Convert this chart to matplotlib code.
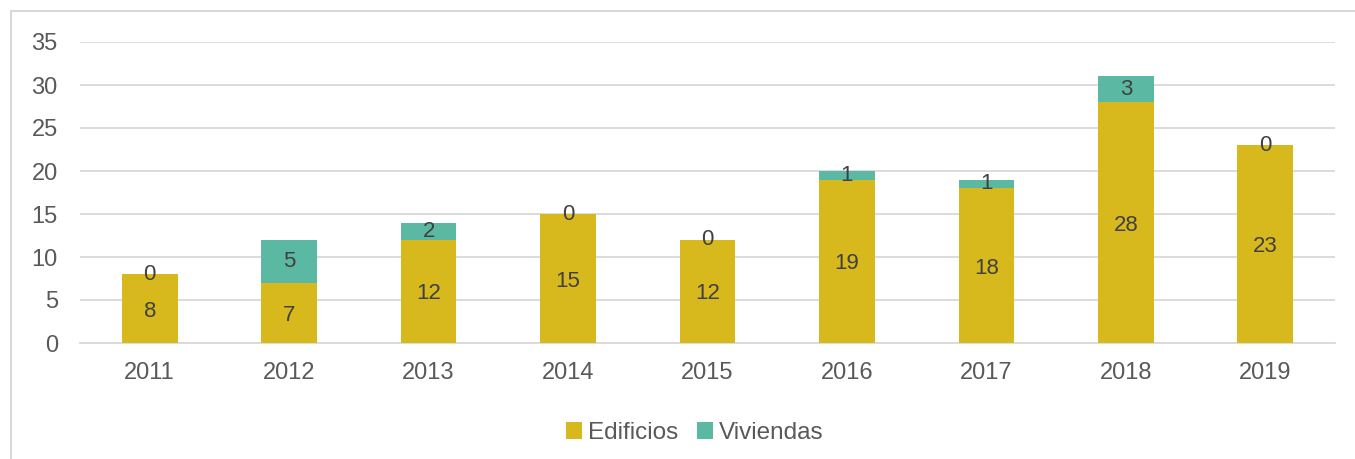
import matplotlib.pyplot as plt
from matplotlib.patches import Rectangle

years = ['2011', '2012', '2013', '2014', '2015', '2016', '2017', '2018', '2019']
edificios = [8, 7, 12, 15, 12, 19, 18, 28, 23]
viviendas = [0, 5, 2, 0, 0, 1, 1, 3, 0]

plt.rcParams['font.family'] = ['Liberation Sans', 'DejaVu Sans']

gold = '#D7B91E'
teal = '#5BB9A3'
grid_c = '#D9D9D9'
tick_c = '#595959'
lab_c = '#404040'

fig = plt.figure(figsize=(13.55, 4.59), dpi=100)
ax = fig.add_axes([80 / 1355, 1 - 343 / 459, 1255 / 1355, 301 / 459])

x = range(len(years))
ax.bar(x, edificios, width=0.4, color=gold, label='Edificios', zorder=3)
ax.bar(x, viviendas, width=0.4, bottom=edificios, color=teal, label='Viviendas', zorder=3)

for i in x:
    e, v = edificios[i], viviendas[i]
    ax.text(i, e / 2 - 0.3, str(e), ha='center', va='center', fontsize=16, color=lab_c, zorder=4)
    ax.text(i, e + v / 2, str(v), ha='center', va='center', fontsize=16, color=lab_c, zorder=4)

ax.set_xlim(-0.5, len(years) - 0.5)
ax.set_ylim(0, 35)
ax.set_yticks(range(0, 36, 5))
ax.set_xticks(list(x))
ax.set_xticklabels(years)
ax.yaxis.grid(True, color=grid_c, linewidth=1.3, zorder=0)
ax.set_axisbelow(True)
for s in ['top', 'right', 'left']:
    ax.spines[s].set_visible(False)
ax.spines['bottom'].set_color(grid_c)
ax.spines['bottom'].set_linewidth(1.3)
ax.tick_params(axis='both', length=0, labelsize=17, colors=tick_c)
ax.tick_params(axis='x', pad=14)
ax.tick_params(axis='y', pad=16)

ax.legend(loc='upper center', bbox_to_anchor=(0.49, -0.19), ncol=2, frameon=False,
          fontsize=17.5, labelcolor=tick_c, handlelength=0.65, handleheight=0.65,
          handletextpad=0.25, columnspacing=0.8)

fig.patches.append(Rectangle((11 / 1355, -0.1), 1.2, 1 - 11 / 459 + 0.1,
                             transform=fig.transFigure, fill=False,
                             edgecolor='#D9D9D9', linewidth=1.5))

fig.savefig('out.png', dpi=100)
